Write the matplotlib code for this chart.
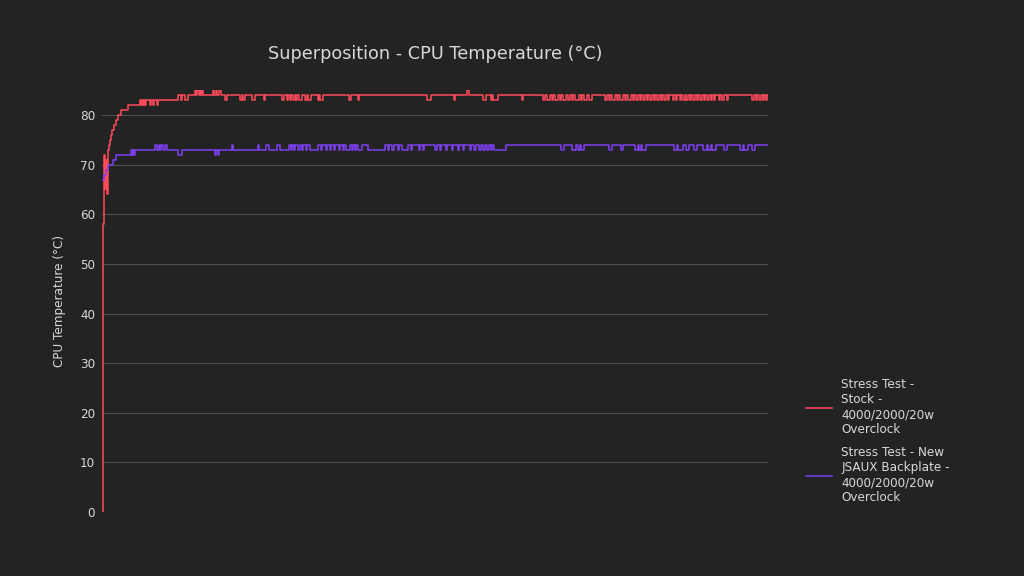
import matplotlib.pyplot as plt
from matplotlib.lines import Line2D

# readings as (sample, temperature) change points
red_t = [0, 1, 2, 3, 4, 5, 6, 7, 8, 9, 10, 12, 14, 16, 19, 26,
         38, 39, 40, 41, 42, 43, 44, 48, 49, 51, 52, 55, 56,
         76, 79, 80, 83, 86, 93, 94, 95, 97, 98, 99, 100, 101,
         111, 112, 114, 115, 117, 119, 123, 125, 138, 140, 141, 143,
         150, 153, 162, 163, 180, 182, 185, 186, 188, 189, 191, 193, 194, 195, 197, 200,
         203, 205, 206, 209, 216, 217, 218, 221, 247, 249, 256, 257,
         325, 329, 352, 353, 365, 367, 381, 384, 389, 390, 391, 396, 420, 421,
         441, 443, 445, 448, 450, 451, 453, 456, 458, 459, 461, 464, 466, 468,
         470, 471, 473, 477, 479, 480, 482, 485, 487, 490,
         503, 505, 507, 508, 510, 513, 515, 516, 518, 521, 523, 524, 526, 529,
         531, 532, 534, 536, 538, 539, 541, 543, 545, 546,
         548, 550, 552, 553, 555, 557, 559, 560, 562, 564, 566, 567,
         571, 572, 574, 575, 578, 579, 581, 583, 584, 586, 588, 589,
         591, 593, 595, 596, 598, 600, 602, 603, 605, 607, 609, 610,
         612, 613, 617, 618, 620, 622, 625, 626,
         650, 652, 654, 655, 657, 659, 661, 662, 664, 665, 666]
red_v = [0, 58, 72, 65, 71, 64, 73, 74, 75, 76, 77, 78, 79, 80, 81, 82,
         83, 82, 83, 82, 83, 82, 83, 82, 83, 82, 83, 82, 83,
         84, 83, 84, 83, 84, 85, 84, 85, 84, 85, 84, 85, 84,
         85, 84, 85, 84, 85, 84, 83, 84, 83, 84, 83, 84,
         83, 84, 83, 84, 83, 84, 83, 84, 83, 84, 83, 84, 83, 84, 83, 84,
         83, 84, 83, 84, 83, 84, 83, 84, 83, 84, 83, 84,
         83, 84, 83, 84, 85, 84, 83, 84, 83, 84, 83, 84, 83, 84,
         83, 84, 83, 84, 83, 84, 83, 84, 83, 84, 83, 84, 83, 84,
         83, 84, 83, 84, 83, 84, 83, 84, 83, 84,
         83, 84, 83, 84, 83, 84, 83, 84, 83, 84, 83, 84, 83, 84,
         83, 84, 83, 84, 83, 84, 83, 84, 83, 84,
         83, 84, 83, 84, 83, 84, 83, 84, 83, 84, 83, 84,
         83, 84, 83, 84, 83, 84, 83, 84, 83, 84, 83, 84,
         83, 84, 83, 84, 83, 84, 83, 84, 83, 84, 83, 84,
         83, 84, 83, 84, 83, 84, 83, 84,
         83, 84, 83, 84, 83, 84, 83, 84, 83, 84, 84]

purple_t = [0, 2, 4, 6, 11, 14, 29, 30, 31, 32, 33,
            53, 55, 57, 58, 59, 61, 63, 65, 76, 80,
            113, 114, 116, 117, 130, 131, 156, 157, 164, 167, 175, 178,
            187, 189, 190, 192, 193, 196, 198, 200, 201, 204, 205, 208,
            216, 219, 220, 224, 225, 228, 229, 232, 233, 237, 238, 241, 242, 244,
            248, 250, 251, 253, 254, 256, 260, 266,
            283, 286, 287, 290, 292, 296, 297, 300,
            306, 309, 310, 317, 318, 321, 322, 333,
            335, 338, 339, 344, 345, 350, 351, 356, 357, 361, 362, 368,
            369, 372, 374, 377, 379, 381, 383, 385, 387, 389, 390, 392,
            404, 459, 462, 470, 474, 476, 478, 479, 482, 507, 510, 519, 521,
            533, 536, 537, 539, 540, 544, 572, 575, 576, 581, 584, 587,
            592, 595, 601, 605, 606, 609, 610, 614, 622, 625,
            638, 641, 642, 646, 650, 653, 666]
purple_v = [67, 68, 69, 70, 71, 72, 73, 72, 73, 72, 73,
            74, 73, 74, 73, 74, 73, 74, 73, 72, 73,
            72, 73, 72, 73, 74, 73, 74, 73, 74, 73, 74, 73,
            74, 73, 74, 73, 74, 73, 74, 73, 74, 73, 74, 73,
            74, 73, 74, 73, 74, 73, 74, 73, 74, 73, 74, 73, 74, 73,
            74, 73, 74, 73, 74, 73, 74, 73,
            74, 73, 74, 73, 74, 73, 74, 73,
            74, 73, 74, 73, 74, 73, 74, 73,
            74, 73, 74, 73, 74, 73, 74, 73, 74, 73, 74, 73,
            74, 73, 74, 73, 74, 73, 74, 73, 74, 73, 74, 73,
            74, 73, 74, 73, 74, 73, 74, 73, 74, 73, 74, 73, 74,
            73, 74, 73, 74, 73, 74, 73, 74, 73, 74, 73, 74,
            73, 74, 73, 74, 73, 74, 73, 74, 73, 74,
            73, 74, 73, 74, 73, 74, 74]

labels = ["Stress Test -\nStock -\n4000/2000/20w\nOverclock",
          "Stress Test - New\nJSAUX Backplate -\n4000/2000/20w\nOverclock"]
colors = ["#ff4a5a", "#7d3ff0"]
yticks = [0, 10, 20, 30, 40, 50, 60, 70, 80]

bg = "#232323"
txt = "#d8d8d8"
plt.rcParams['font.family'] = ['DejaVu Sans']

fig = plt.figure(figsize=(10.24, 5.76), dpi=100, facecolor=bg)
ax = fig.add_axes([102/1024, 64/576, 666/1024, 421.8/576], facecolor=bg)

ax.plot(red_t, red_v, drawstyle='steps-post', color=colors[0], lw=1.1, label=labels[0], zorder=3)
ax.plot(purple_t, purple_v, drawstyle='steps-post', color=colors[1], lw=1.1, label=labels[1], zorder=3)

ax.set_xlim(0, 666)
ax.set_ylim(0, 85)
ax.set_xticks([])
ax.set_yticks(yticks)
for y in yticks[1:]:
    ax.axhline(y, color="#505050", lw=0.8, zorder=1)
ax.axhline(0, color="#303030", lw=1.0, zorder=1)
ax.tick_params(axis='y', length=0, pad=5, labelcolor=txt, labelsize=8.64)
for s in ax.spines.values():
    s.set_visible(False)

ax.set_ylabel("CPU Temperature (°C)", color=txt, fontsize=8.64, labelpad=10)
fig.text(435/1024, 1 - 54/576, "Superposition - CPU Temperature (°C)", color=txt,
         fontsize=12.7, ha='center', va='center')

leg = fig.legend(handles=[Line2D([], [], color=c, lw=1.1) for c in colors], labels=labels,
                 loc='upper left', bbox_to_anchor=(806/1024, 1 - 378/576),
                 frameon=False, fontsize=8.64, handlelength=2.2, handletextpad=0.75,
                 labelspacing=0.85, borderpad=0, borderaxespad=0)
for t in leg.get_texts():
    t.set_color(txt)

fig.savefig("out.png", dpi=100, facecolor=bg)
